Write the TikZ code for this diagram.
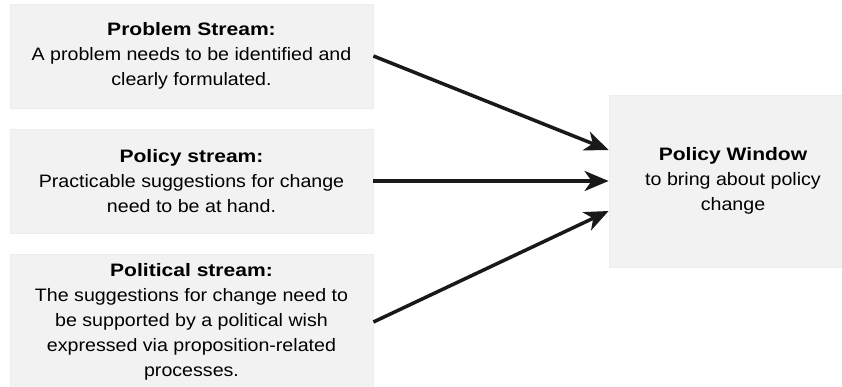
\documentclass[tikz,border=0pt]{standalone}
\usepackage{fontspec}
\setmainfont{Liberation Sans}[FakeStretch=1.09, BoldFeatures={FakeStretch=1.17}]
\usetikzlibrary{arrows.meta}
\begin{document}
\begin{tikzpicture}[x=1pt,y=-1pt,
  streambox/.style={draw=black!7, fill=black!5, line width=0.8pt, inner sep=0pt,
    align=center, font=\fontsize{18}{25}\selectfont},
  flow/.style={line width=3.5pt, draw=black!90,
    -{Stealth[length=24pt,width=20pt,inset=7pt]}}]
\useasboundingbox (0,0) rectangle (842,387);
\clip (0,0) rectangle (842,387);

% the three streams
\node[streambox, minimum width=363pt, minimum height=104pt] (prob) at (191.5,56)
  {\textbf{Problem Stream:}\\A problem needs to be identified and\\clearly formulated.};
\node[streambox, minimum width=363pt, minimum height=104pt] (pol) at (191.5,181)
  {\textbf{Policy stream:}\\Practicable suggestions for change\\need to be at hand.};
\node[streambox, minimum width=363pt, minimum height=136pt] (polit) at (191.5,322)
  {\textbf{Political stream:}\\The suggestions for change need to\\be supported by a political wish\\expressed via proposition-related\\processes.};

% the window they converge on
\node[streambox, minimum width=248pt, minimum height=172pt] (win) at (733,181)
  {\textbf{Policy Window}\\to bring about policy\\change};

% connectors
\draw[flow] (prob.east) -- ([yshift=31pt]win.west);
\draw[flow] (pol.east) -- (win.west);
\draw[flow] (polit.east) -- ([yshift=-30pt]win.west);
\end{tikzpicture}
\end{document}
